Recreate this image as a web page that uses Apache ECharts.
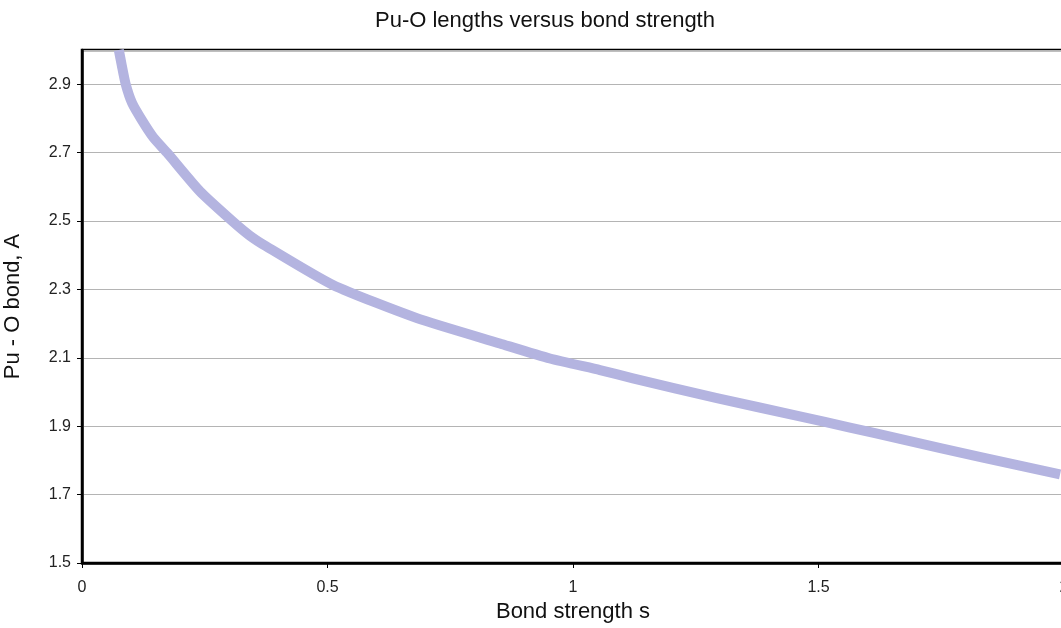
<!DOCTYPE html>
<html>
<head>
<meta charset="utf-8">
<script src="https://cdn.jsdelivr.net/npm/echarts@6/dist/echarts.min.js"></script>
<style>
html,body{margin:0;padding:0;background:#fff;}
#chart{width:1061px;height:628px;}
</style>
</head>
<body>
<div id="chart"></div>
<script>
const chartTitle = 'Pu-O lengths versus bond strength';
const xAxisName = 'Bond strength s';
const yAxisName = 'Pu - O bond, A';
const bondStrength = [0.075, 0.081, 0.089, 0.102, 0.122, 0.145, 0.173, 0.240, 0.306, 0.342, 0.375, 0.511, 0.682, 0.851, 0.953, 1.055, 1.122, 1.293, 1.462, 1.564, 1.666, 1.835, 1.992];
const bondLength   = [3.00, 2.955, 2.90, 2.845, 2.795, 2.745, 2.70, 2.587, 2.50, 2.457, 2.426, 2.313, 2.216, 2.142, 2.098, 2.064, 2.040, 1.982, 1.929, 1.896, 1.863, 1.808, 1.759];

const font = '"Liberation Sans", Arial, Helvetica, sans-serif';
const chart = echarts.init(document.getElementById('chart'), null, {renderer: 'canvas'});
chart.setOption({
  animation: false,
  backgroundColor: '#fff',
  title: {
    text: chartTitle,
    left: 375, top: 10, padding: 0,
    textStyle: {fontFamily: font, fontSize: 22, fontWeight: 'normal', color: '#111'}
  },
  grid: {
    left: 82, right: -3, top: 50, bottom: 65,
    outerBoundsMode: 'none', containLabel: false,
    show: true, borderColor: '#000', borderWidth: 2.5, backgroundColor: 'transparent'
  },
  xAxis: {
    type: 'value', min: 0, max: 2, interval: 0.5,
    name: xAxisName, nameLocation: 'middle', nameGap: 35,
    nameTextStyle: {fontFamily: font, fontSize: 22, color: '#111'},
    axisLine: {show: true, lineStyle: {color: '#000', width: 2.5}},
    axisTick: {show: true, inside: false, length: 5, lineStyle: {color: '#000', width: 1}},
    axisLabel: {fontFamily: font, fontSize: 16, color: '#222', margin: 17, hideOverlap: false},
    splitLine: {show: false}
  },
  yAxis: {
    type: 'value', min: 1.5, max: 3.0, interval: 0.2,
    name: yAxisName, nameLocation: 'middle', nameGap: 58, nameRotate: 90,
    nameTextStyle: {fontFamily: font, fontSize: 22, color: '#111'},
    axisLine: {show: true, lineStyle: {color: '#000', width: 2.5}},
    axisTick: {show: true, inside: false, length: 5, lineStyle: {color: '#000', width: 1}},
    axisLabel: {fontFamily: font, fontSize: 16, color: '#222', margin: 11, showMaxLabel: false,
      formatter: v => v.toFixed(1)},
    splitLine: {show: true, lineStyle: {color: '#b4b4b4', width: 1}}
  },
  series: [{
    type: 'line',
    data: bondStrength.map((s, i) => [s, bondLength[i]]),
    smooth: 0.2,
    showSymbol: false,
    clip: true,
    lineStyle: {color: '#b4b4e0', width: 10, cap: 'butt', join: 'round'},
    z: 1
  }]
});
</script>
</body>
</html>
